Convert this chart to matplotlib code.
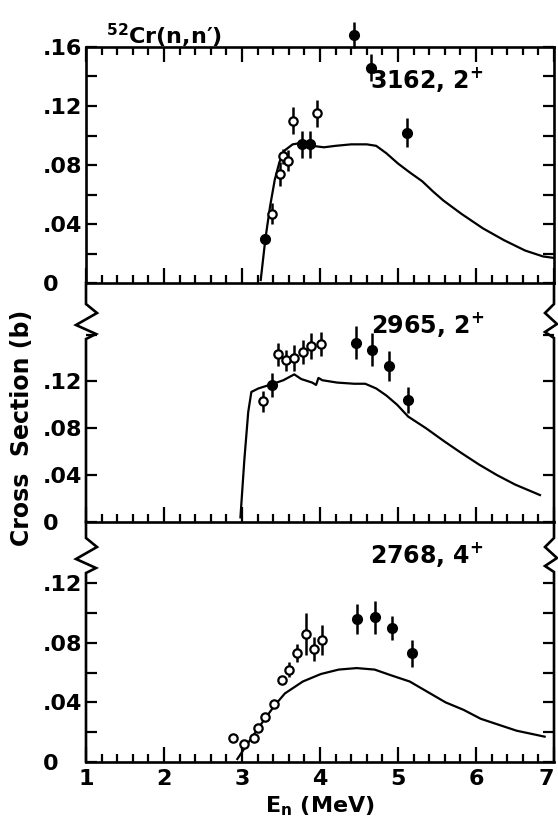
import matplotlib
matplotlib.use("Agg")
import matplotlib.pyplot as plt
from matplotlib.lines import Line2D
from matplotlib.ticker import FixedLocator, FixedFormatter, MultipleLocator

plt.rcParams['font.family'] = ['DejaVu Sans']
plt.rcParams['font.weight'] = 'bold'
plt.rcParams['mathtext.default'] = 'regular'

# ---------------- data ----------------
# 3162, 2+ level
top_curve_x = [3.24, 3.30, 3.36, 3.42, 3.48, 3.55, 3.65, 3.76, 3.90, 4.05, 4.20, 4.40, 4.60,
               4.72, 4.85, 5.00, 5.15, 5.31, 5.45, 5.58, 5.81, 6.09, 6.36, 6.63, 6.86, 7.00]
top_curve_y = [0.002, 0.030, 0.052, 0.070, 0.082, 0.090, 0.094, 0.095, 0.093, 0.092, 0.093, 0.094, 0.094,
               0.093, 0.088, 0.081, 0.075, 0.069, 0.062, 0.056, 0.047, 0.037, 0.029, 0.022, 0.018, 0.017]
top_open_x = [3.38, 3.49, 3.53, 3.59, 3.66, 3.96]
top_open_y = [0.047, 0.074, 0.086, 0.083, 0.110, 0.115]
top_open_err = [0.007, 0.008, 0.005, 0.007, 0.009, 0.009]
top_fill_x = [3.30, 3.77, 3.87, 4.44, 4.66, 5.11]
top_fill_y = [0.030, 0.094, 0.094, 0.168, 0.146, 0.102]
top_fill_err = [0.003, 0.009, 0.009, 0.009, 0.009, 0.010]

# 2965, 2+ level
mid_curve_x = [2.98, 3.03, 3.08, 3.12, 3.21, 3.40, 3.53, 3.67, 3.76, 3.90, 3.95, 3.98, 4.03,
               4.22, 4.44, 4.58, 4.72, 4.85, 4.99, 5.13, 5.36, 5.59, 5.81, 6.04, 6.27, 6.50, 6.82]
mid_curve_y = [0.004, 0.053, 0.094, 0.111, 0.114, 0.118, 0.121, 0.126, 0.122, 0.119, 0.117, 0.123, 0.121,
               0.119, 0.118, 0.118, 0.114, 0.108, 0.100, 0.090, 0.080, 0.069, 0.059, 0.049, 0.040, 0.032, 0.023]
mid_open_x = [3.27, 3.46, 3.57, 3.67, 3.78, 3.89, 4.01]
mid_open_y = [0.103, 0.143, 0.138, 0.140, 0.145, 0.150, 0.152]
mid_open_err = [0.009, 0.010, 0.009, 0.011, 0.010, 0.011, 0.010]
mid_fill_x = [3.38, 4.46, 4.67, 4.88, 5.13]
mid_fill_y = [0.117, 0.153, 0.147, 0.133, 0.104]
mid_fill_err = [0.010, 0.014, 0.014, 0.013, 0.011]

# 2768, 4+ level
bot_curve_x = [2.94, 3.10, 3.28, 3.42, 3.55, 3.78, 4.01, 4.24, 4.47, 4.70, 4.92, 5.15, 5.38,
               5.61, 5.84, 6.06, 6.29, 6.52, 6.88]
bot_curve_y = [0.002, 0.0145, 0.028, 0.038, 0.046, 0.054, 0.059, 0.062, 0.063, 0.062, 0.058, 0.054, 0.047,
               0.040, 0.035, 0.029, 0.025, 0.021, 0.017]
bot_open_x = [2.89, 3.02, 3.15, 3.20, 3.30, 3.41, 3.51, 3.60, 3.71, 3.82, 3.92, 4.03]
bot_open_y = [0.016, 0.012, 0.016, 0.023, 0.030, 0.039, 0.055, 0.062, 0.073, 0.086, 0.076, 0.082]
bot_open_err = [0, 0, 0, 0, 0, 0, 0, 0.005, 0.006, 0.014, 0.008, 0.010]
bot_fill_x = [4.48, 4.70, 4.92, 5.18]
bot_fill_y = [0.096, 0.097, 0.090, 0.073]
bot_fill_err = [0.010, 0.011, 0.008, 0.009]

panel_labels = ["3162, 2$^{+}$", "2965, 2$^{+}$", "2768, 4$^{+}$"]
x_tickvals = [1, 2, 3, 4, 5, 6, 7]
x_ticklabels = ["1", "2", "3", "4", "5", "6", "7"]

# ---------------- figure ----------------
W, H = 558, 818
fig = plt.figure(figsize=(W / 100, H / 100), dpi=100)

def fx(px):
    return px / W

def fy(py):
    return 1 - py / H

xl, xr = 86, 554
ax_top = fig.add_axes([fx(xl), fy(283), fx(xr) - fx(xl), (283 - 47) / H])
ax_mid = fig.add_axes([fx(xl), fy(522), fx(xr) - fx(xl), (522 - 283) / H])
ax_bot = fig.add_axes([fx(xl), fy(762), fx(xr) - fx(xl), (762 - 522) / H])

LW = 1.9
FS = 16

ylims = [(0, 0.16), (0, 0.204), (0, 0.161)]
yticks = [[0, 0.02, 0.04, 0.06, 0.08, 0.10, 0.12, 0.14, 0.16],
          [0, 0.04, 0.08, 0.12, 0.16],
          [0, 0.02, 0.04, 0.06, 0.08, 0.10, 0.12]]
ylabels_map = {0: "0", 0.04: ".04", 0.08: ".08", 0.12: ".12", 0.16: ".16"}
ylabel_sets = [[0, 0.04, 0.08, 0.12, 0.16], [0, 0.04, 0.08, 0.12], [0, 0.04, 0.08, 0.12]]

data = [
    (top_curve_x, top_curve_y, top_open_x, top_open_y, top_open_err, top_fill_x, top_fill_y, top_fill_err),
    (mid_curve_x, mid_curve_y, mid_open_x, mid_open_y, mid_open_err, mid_fill_x, mid_fill_y, mid_fill_err),
    (bot_curve_x, bot_curve_y, bot_open_x, bot_open_y, bot_open_err, bot_fill_x, bot_fill_y, bot_fill_err),
]
axes = [ax_top, ax_mid, ax_bot]

for i, ax in enumerate(axes):
    cx, cy, ox, oy, oe, bx, by, be = data[i]
    ax.set_xlim(1, 7)
    ax.set_ylim(*ylims[i])
    ax.plot(cx, cy, color='black', lw=1.6, solid_joinstyle='round')
    c1 = ax.errorbar(ox, oy, yerr=oe, fmt='o', ms=6.0, mfc='white', mec='black', mew=1.6,
                     ecolor='black', elinewidth=1.8, capsize=0, zorder=3)
    c2 = ax.errorbar(bx, by, yerr=be, fmt='o', ms=7.0, mfc='black', mec='black',
                     ecolor='black', elinewidth=1.8, capsize=0, zorder=3)
    for cont in (c1, c2):
        cont.lines[0].set_clip_on(False)
        for a in cont.lines[2]:
            a.set_clip_on(False)

    # x ticks
    ax.xaxis.set_major_locator(FixedLocator(x_tickvals))
    ax.xaxis.set_major_formatter(FixedFormatter(x_ticklabels))
    ax.xaxis.set_minor_locator(MultipleLocator(0.2))
    ax.tick_params(axis='x', which='major', direction='in', length=11, width=1.6,
                   top=(i == 0), bottom=True, labelbottom=(i == 2), labelsize=FS, pad=5)
    ax.tick_params(axis='x', which='minor', direction='in', length=6, width=1.6,
                   top=(i == 0), bottom=True)
    # y ticks
    ax.yaxis.set_major_locator(FixedLocator(yticks[i]))
    labs = []
    for t in yticks[i]:
        key = round(t, 2)
        labs.append(ylabels_map[key] if key in ylabel_sets[i] else "")
    ax.yaxis.set_major_formatter(FixedFormatter(labs))
    ax.tick_params(axis='y', which='major', direction='in', length=8, width=1.6,
                   left=True, right=True, labelsize=FS, pad=31)
    for lab in ax.get_yticklabels():
        lab.set_horizontalalignment('left')
    for s in ax.spines.values():
        s.set_linewidth(LW)
    ax.patch.set_alpha(0)

# keep the last x tick label inside the canvas
ax_bot.get_xticklabels()[-1].set_horizontalalignment('right')

# break marks for lower panels: hide side spines, draw with zigzags
for ax, ytop, ybot, zstart in [(ax_mid, 283, 522, 304), (ax_bot, 522, 762, 538)]:
    ax.spines['top'].set_visible(False)
    ax.spines['left'].set_visible(False)
    ax.spines['right'].set_visible(False)
    left_pts = [(0, 0), (11, 9), (-10, 21), (10, 30), (0, 35)]
    right_pts = [(0, 0), (-9, 9), (3, 20), (-9, 28), (0, 34)]
    for x0, pts in [(xl, left_pts), (xr, right_pts)]:
        xs = [x0, x0] + [x0 + dx for dx, dy in pts] + [x0]
        ys = [ytop, zstart] + [zstart + dy for dx, dy in pts] + [ybot]
        fig.add_artist(Line2D([fx(v) for v in xs], [fy(v) for v in ys],
                              transform=fig.transFigure, color='black', lw=LW,
                              solid_joinstyle='miter'))

# panel labels
for txt, base in zip(panel_labels, [88, 333, 563]):
    fig.text(fx(484), fy(base), txt, ha='right', va='baseline', fontsize=17, fontweight='bold')

# title
fig.text(fx(106), fy(44), "$^{52}$Cr(n,n\u2032)", ha='left', va='baseline', fontsize=16, fontweight='bold')

# axis labels
fig.text(fx(22), fy(428), "Cross  Section (b)", rotation=90, ha='center', va='center',
         fontsize=17, fontweight='bold')
fig.text(fx(320), fy(806), r"E$_\mathregular{n}$ (MeV)", ha='center', va='center',
         fontsize=16, fontweight='bold')

fig.savefig("out.png", dpi=100)
